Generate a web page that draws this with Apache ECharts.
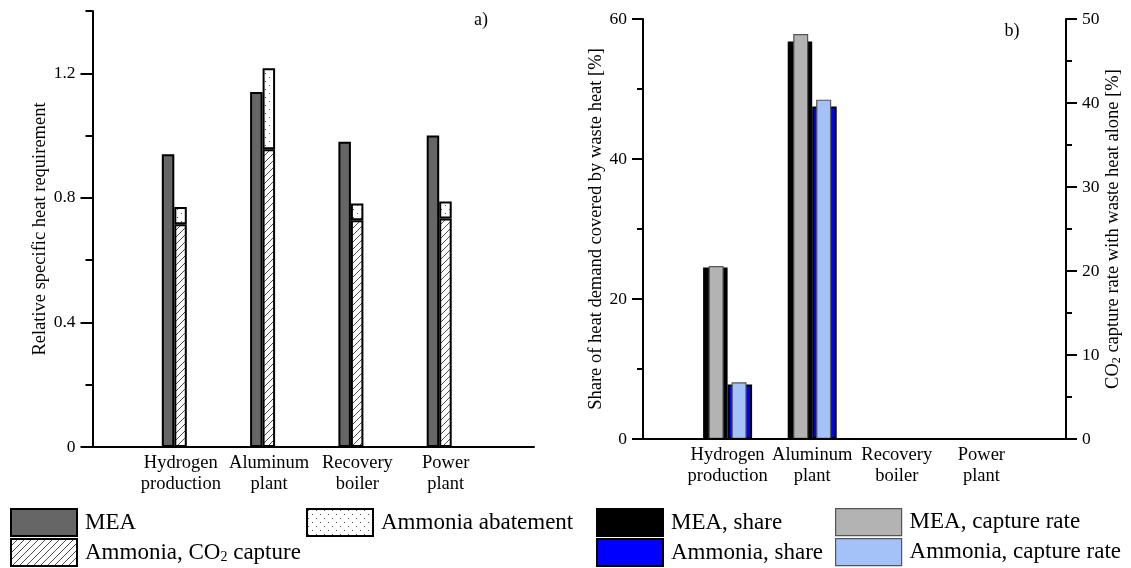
<!DOCTYPE html>
<html><head><meta charset="utf-8">
<script src="https://cdn.jsdelivr.net/npm/echarts@6/dist/echarts.min.js"></script>
<style>html,body{margin:0;padding:0;background:#fff}#c{width:1131px;height:568px}</style>
</head><body><div id="c"></div><script>
// ---- data ----
const categories = ['Hydrogen\nproduction', 'Aluminum\nplant', 'Recovery\nboiler', 'Power\nplant'];
// panel a) relative specific heat requirement
const meaRelative = [0.94, 1.14, 0.98, 1.00];
const ammoniaCO2Capture = [0.715, 0.956, 0.728, 0.734];
const ammoniaAbatement = [0.056, 0.26, 0.054, 0.054];
const leftTickLabels = [0, 0.4, 0.8, 1.2];
// panel b) share of heat demand covered by waste heat [%]
const meaShare = [24.5, 56.8, 0, 0];
const ammoniaShare = [7.8, 47.5, 0, 0];
// panel b) CO2 capture rate with waste heat alone [%]
const meaCaptureRate = [20.6, 48.2, 0, 0];
const ammoniaCaptureRate = [6.75, 40.4, 0, 0];

const FONT = '"Liberation Serif", "Times New Roman", serif';
const pad = a => ['-', ...a, '-'];
const axisCats = ['', ...categories, ''];

function hatchPattern() {
  const c = document.createElement('canvas'); c.width = 7; c.height = 7;
  const g = c.getContext('2d');
  g.fillStyle = '#fff'; g.fillRect(0, 0, 7, 7);
  g.strokeStyle = '#3a3a3a'; g.lineWidth = 0.9;
  g.beginPath();
  g.moveTo(-1, 8); g.lineTo(8, -1);
  g.moveTo(-1, 1); g.lineTo(1, -1);
  g.moveTo(6, 8); g.lineTo(8, 6);
  g.stroke();
  return { image: c, repeat: 'repeat' };
}
function dotPattern() {
  const c = document.createElement('canvas'); c.width = 8; c.height = 8;
  const g = c.getContext('2d');
  g.fillStyle = '#fff'; g.fillRect(0, 0, 8, 8);
  g.fillStyle = '#555';
  g.fillRect(1, 1, 1, 1); g.fillRect(5, 5, 1, 1);
  return { image: c, repeat: 'repeat' };
}

const axisLineStyle = { color: '#000', width: 2 };
const labelStyle = { color: '#000', fontFamily: FONT };

function catAxis(gridIndex, show) {
  return {
    type: 'category', gridIndex, data: axisCats, boundaryGap: false, show: show, z: 5,
    axisLine: { lineStyle: axisLineStyle },
    axisTick: { show: false },
    axisLabel: { ...labelStyle, interval: 0, fontSize: 18.5, lineHeight: 21, margin: 6 },
    splitLine: { show: false }
  };
}

const legendBase = {
  orient: 'horizontal', padding: 0, itemWidth: 66, itemHeight: 27, selectedMode: false, icon: 'rect',
  textStyle: { ...labelStyle, fontSize: 23, padding: [0, 0, 0, 3], rich: { sub: { fontSize: 14, verticalAlign: 'bottom', fontFamily: FONT, color: '#000' } } },
  formatter: n => n.replace('CO2', 'CO{sub|2}')
};
function legendAt(name, left, top, border) {
  return { ...legendBase, data: [name], left, top, itemStyle: { borderColor: border || '#000', borderWidth: border ? 1.2 : 2 } };
}

const option = {
  animation: false,
  backgroundColor: '#fff',
  grid: [
    { left: 92.5, top: 11, width: 441.5, height: 436 },
    { left: 643, top: 19, width: 423, height: 420 },
    { left: 86, top: 11, width: 441.5, height: 436 }
  ],
  xAxis: [catAxis(0, true), catAxis(1, true), catAxis(1, false), catAxis(2, false)],
  yAxis: [
    { type: 'value', gridIndex: 0, position: 'left', min: 0, max: 1.4,
      name: 'Relative specific heat requirement', nameLocation: 'middle', nameGap: 43, nameRotate: 90,
      nameTextStyle: { ...labelStyle, fontSize: 18.5 },
      axisLine: { show: true, lineStyle: axisLineStyle },
      axisTick: { show: true, length: 12, lineStyle: { color: '#000', width: 2 }, customValues: leftTickLabels },
      axisLabel: { ...labelStyle, fontSize: 17.5, margin: 17, customValues: leftTickLabels, formatter: v => v === 0 ? '0' : v.toFixed(1) },
      splitLine: { show: false } },
    { type: 'value', gridIndex: 0, position: 'left', min: 0, max: 1.4, interval: 0.2,
      axisLine: { show: false }, axisLabel: { show: false }, splitLine: { show: false },
      axisTick: { show: true, length: 7, lineStyle: { color: '#000', width: 2 } } },
    { type: 'value', gridIndex: 1, position: 'left', min: 0, max: 60, interval: 20,
      name: 'Share of heat demand covered by waste heat [%]', nameLocation: 'middle', nameGap: 35, nameRotate: 90,
      nameTextStyle: { ...labelStyle, fontSize: 18.5 },
      axisLine: { show: true, lineStyle: axisLineStyle },
      axisTick: { show: true, length: 11, lineStyle: { color: '#000', width: 2 } },
      minorTick: { show: true, splitNumber: 2, length: 6, lineStyle: { color: '#000', width: 2 } },
      axisLabel: { ...labelStyle, fontSize: 17.5, margin: 16 },
      splitLine: { show: false } },
    { type: 'value', gridIndex: 1, position: 'right', min: 0, max: 50, interval: 10,
      name: 'CO{sub|2} capture rate with waste heat alone [%]', nameLocation: 'middle', nameGap: 37, nameRotate: 90,
      nameTextStyle: { ...labelStyle, fontSize: 18.5, rich: { sub: { fontSize: 12, verticalAlign: 'bottom', fontFamily: FONT, color: '#000' } } },
      axisLine: { show: true, lineStyle: axisLineStyle },
      axisTick: { show: true, length: 11, lineStyle: { color: '#000', width: 2 } },
      minorTick: { show: true, splitNumber: 2, length: 6, lineStyle: { color: '#000', width: 2 } },
      axisLabel: { ...labelStyle, fontSize: 17.5, margin: 16 },
      splitLine: { show: false } },
    { type: 'value', gridIndex: 2, min: 0, max: 1.4, show: false, splitLine: { show: false } }
  ],
  legend: [
    legendAt('MEA', 10, 508),
    legendAt('Ammonia, CO2 capture', 10, 538),
    legendAt('Ammonia abatement', 306, 508),
    legendAt('MEA, share', 596, 508),
    legendAt('Ammonia, share', 596, 538),
    legendAt('MEA, capture rate', 835, 508, '#555'),
    legendAt('Ammonia, capture rate', 835, 538, '#555')
  ],
  graphic: [
    { type: 'text', x: 481, y: 20, style: { text: 'a)', fontSize: 18, fontFamily: FONT, fill: '#000', align: 'center', verticalAlign: 'middle' } },
    { type: 'text', x: 1012, y: 31, style: { text: 'b)', fontSize: 18, fontFamily: FONT, fill: '#000', align: 'center', verticalAlign: 'middle' } }
  ],
  series: [
    { name: 'MEA', type: 'bar', xAxisIndex: 3, yAxisIndex: 4, data: pad(meaRelative), barWidth: 12.5, barGap: '0%',
      itemStyle: { color: '#666666', borderColor: '#000', borderWidth: 2 } },
    { name: 'Ammonia, CO2 capture', type: 'bar', xAxisIndex: 3, yAxisIndex: 4, stack: 'amm', data: pad(ammoniaCO2Capture), barWidth: 12.5, barGap: '0%',
      itemStyle: { color: hatchPattern(), borderColor: '#000', borderWidth: 2 } },
    { name: 'Ammonia abatement', type: 'bar', xAxisIndex: 3, yAxisIndex: 4, stack: 'amm', data: pad(ammoniaAbatement), barWidth: 12.5, barGap: '0%',
      itemStyle: { color: dotPattern(), borderColor: '#000', borderWidth: 2 } },
    { name: 'MEA, share', type: 'bar', xAxisIndex: 1, yAxisIndex: 2, data: pad(meaShare), barWidth: 24.5, barGap: '0%',
      itemStyle: { color: '#000', borderColor: '#000', borderWidth: 2 } },
    { name: 'Ammonia, share', type: 'bar', xAxisIndex: 1, yAxisIndex: 2, data: pad(ammoniaShare), barWidth: 24.5, barGap: '0%',
      itemStyle: { color: '#0000ff', borderColor: '#000', borderWidth: 2 } },
    { name: 'MEA, capture rate', type: 'bar', xAxisIndex: 2, yAxisIndex: 3, data: pad(meaCaptureRate), barWidth: 15, barGap: '53%',
      itemStyle: { color: '#b3b3b3', borderColor: '#555', borderWidth: 1.2 } },
    { name: 'Ammonia, capture rate', type: 'bar', xAxisIndex: 2, yAxisIndex: 3, data: pad(ammoniaCaptureRate), barWidth: 15, barGap: '53%',
      itemStyle: { color: '#a4c2f8', borderColor: '#555', borderWidth: 1.2 } }
  ]
};
const chart = echarts.init(document.getElementById('c'), null, { renderer: 'canvas' });
chart.setOption(option);
</script></body></html>
